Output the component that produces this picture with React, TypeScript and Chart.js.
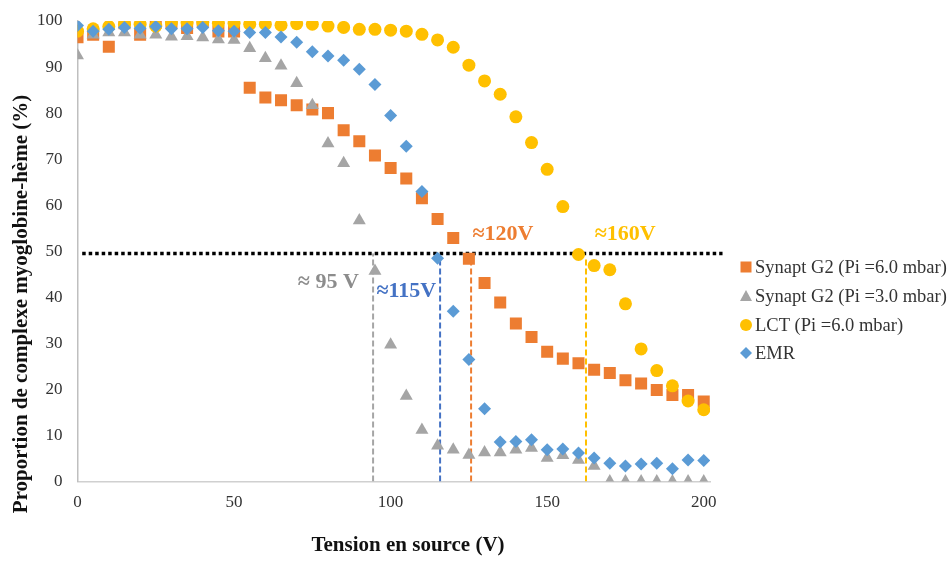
import { useEffect, useRef } from "react";
import { Chart, registerables } from "chart.js";

Chart.register(...registerables);

// ---- data ----
const volts = [0, 5, 10, 15, 20, 25, 30, 35, 40, 45, 50, 55, 60, 65, 70, 75, 80, 85, 90, 95, 100, 105, 110, 115, 120, 125, 130, 135, 140, 145, 150, 155, 160, 165, 170, 175, 180, 185, 190, 195, 200];

const seriesNames = ["Synapt G2 (Pi =6.0 mbar)", "Synapt G2 (Pi =3.0 mbar)", "LCT (Pi =6.0 mbar)", "EMR"];

const synapt6 = [96.5, 97, 94.4, 99.5, 97, 99.6, 99.6, 98.5, 100, 97.7, 97.7, 85.5, 83.4, 82.8, 81.7, 80.8, 80, 76.3, 73.9, 70.8, 68.1, 65.8, 61.5, 57, 52.9, 48.4, 43.1, 38.9, 34.3, 31.4, 28.2, 26.7, 25.7, 24.3, 23.6, 22, 21.3, 19.9, 18.8, 18.8, 17.4];
const synapt3 = [92.5, 97, 97.5, 97.5, 97, 97, 96.6, 96.7, 96.4, 96, 95.9, 94.1, 91.9, 90.3, 86.5, 81.7, 73.4, 69.1, 56.7, 45.7, 29.7, 18.6, 11.2, 7.8, 6.9, 5.8, 6.3, 6.3, 6.9, 7.3, 5.1, 5.7, 4.7, 3.4, 0, 0, 0, 0, 0, 0, 0];
const lct = [97.8, 98.3, 98.8, 99.3, 99.3, 98.9, 99.6, 99.6, 99.7, 99.5, 99.5, 99.3, 99.3, 99.1, 99.4, 99.3, 98.9, 98.6, 98.2, 98.2, 98, 97.8, 97.1, 95.9, 94.3, 90.4, 87, 84.1, 79.2, 73.6, 67.8, 59.7, 49.3, 46.9, 46, 38.6, 28.8, 24.1, 20.8, 17.5, 15.6];
const emr = [99, 97.8, 98.2, 98.6, 98.4, 98.8, 98.3, 98.3, 98.6, 97.9, 97.8, 97.5, 97.5, 96.5, 95.4, 93.3, 92.4, 91.5, 89.5, 86.2, 79.5, 72.8, 63, 48.5, 37, 26.5, 15.8, 8.6, 8.7, 9.1, 6.9, 7.1, 6.2, 5.1, 4, 3.4, 3.8, 4, 2.8, 4.7, 4.6];

// 50 % threshold line and read-off voltages
const thresholdLevel = 49.5;
const thresholdSpan = [1.5, 206];
const crossVolts = [94.4, 115.8, 125.7, 162.4];
const crossTops = [49.5, 48.5, 47.5, 48.5];
const crossLabels = ["≈ 95 V", "≈115V", "≈120V", "≈160V"];
const crossLabelX = [80.1, 105, 135.9, 174.9];
const crossLabelY = [43.2, 41.3, 53.6, 53.6];

const xTicks = [0, 50, 100, 150, 200];
const xTitle = "Tension en source (V)";
const yTitle = "Proportion de complexe myoglobine-hème (%)";

const COLORS = ["#ED7D31", "#A5A5A5", "#FFC000", "#5B9BD5"];
const LINE_COLORS = ["#A5A5A5", "#4472C4", "#ED7D31", "#FFC000"];
const LABEL_COLORS = ["#8C8C8C", "#4472C4", "#ED7D31", "#FFC000"];
const SERIF = '"Liberation Serif", "Times New Roman", serif';

export default function App() {
  const ref = useRef<HTMLCanvasElement>(null);

  useEffect(() => {
    document.body.style.margin = "0";
    const canvas = ref.current!;
    const pts = (arr: number[]) => volts.map((v, i) => ({ x: v, y: arr[i] }));
    const styles = ["rect", "triangle", "circle", "rectRot"];
    const radii = [8.5, 7.5, 6.5, 6.5];
    const seriesData = [synapt6, synapt3, lct, emr];

    const datasets: any[] = seriesData.map((arr, i) => ({
      label: seriesNames[i],
      data: pts(arr),
      pointStyle: styles[i],
      pointRadius: radii[i],
      pointHoverRadius: radii[i],
      backgroundColor: COLORS[i],
      borderColor: COLORS[i],
      pointBorderWidth: 0,
      showLine: false,
      order: 4 - i,
    }));

    crossVolts.forEach((v, i) => {
      datasets.push({
        label: "_v" + i,
        data: [
          { x: v, y: 0 },
          { x: v, y: crossTops[i] },
        ],
        showLine: true,
        pointRadius: 0,
        borderColor: LINE_COLORS[i],
        borderWidth: 2,
        borderDash: [6, 3],
        order: 10,
      });
    });
    datasets.push({
      label: "_h",
      data: [
        { x: thresholdSpan[0], y: thresholdLevel },
        { x: thresholdSpan[1], y: thresholdLevel },
      ],
      showLine: true,
      pointRadius: 0,
      borderColor: "#000000",
      borderWidth: 3.5,
      borderDash: [3.5, 3],
      borderCapStyle: "butt",
      clip: false,
      order: 9,
    });

    const overlay = {
      id: "overlay",
      afterDraw(chart: any) {
        const c = chart.ctx;
        const xs = chart.scales.x;
        const ys = chart.scales.y;
        c.save();
        // read-off labels
        c.font = `bold 22px ${SERIF}`;
        c.textAlign = "center";
        c.textBaseline = "middle";
        crossLabels.forEach((t, i) => {
          c.fillStyle = LABEL_COLORS[i];
          c.fillText(t, xs.getPixelForValue(crossLabelX[i]), ys.getPixelForValue(crossLabelY[i]));
        });
        // axis titles
        c.font = `bold 21px ${SERIF}`;
        c.fillStyle = "#111";
        c.fillText(xTitle, 408, 546);
        c.save();
        c.translate(22, 304);
        c.rotate(-Math.PI / 2);
        c.fillText(yTitle, 0, 0);
        c.restore();
        // legend
        const rowsY = [267, 296, 325, 353];
        c.font = `18.5px ${SERIF}`;
        c.textAlign = "left";
        seriesNames.forEach((name, i) => {
          const y = rowsY[i];
          c.fillStyle = COLORS[i];
          const mx = 746;
          c.beginPath();
          if (i === 0) {
            c.rect(mx - 5.5, y - 5.5, 11, 11);
          } else if (i === 1) {
            c.moveTo(mx - 6, y + 5);
            c.lineTo(mx + 6, y + 5);
            c.lineTo(mx, y - 6);
            c.closePath();
          } else if (i === 2) {
            c.arc(mx, y, 6, 0, Math.PI * 2);
          } else {
            c.moveTo(mx, y - 6);
            c.lineTo(mx + 6, y);
            c.lineTo(mx, y + 6);
            c.lineTo(mx - 6, y);
            c.closePath();
          }
          c.fill();
          c.fillStyle = "#333";
          c.fillText(name, 755, y + 1);
        });
        c.restore();
      },
    };

    const chart = new Chart(canvas, {
      type: "scatter",
      data: { datasets },
      plugins: [overlay],
      options: {
        animation: false,
        responsive: false,
        events: [],
        layout: { padding: { left: 22, right: 241, top: 21, bottom: 39 } },
        plugins: { legend: { display: false }, tooltip: { enabled: false } },
        scales: {
          x: {
            type: "linear",
            min: 0,
            max: 202,
            afterBuildTicks: (s: any) => {
              s.ticks = xTicks.map((v) => ({ value: v }));
            },
            grid: { display: false, drawTicks: false },
            border: { color: "#D0D0D0", width: 1.5 },
            ticks: { color: "#333", font: { family: SERIF, size: 17 }, padding: 11, maxRotation: 0 },
          },
          y: {
            min: 0,
            max: 100,
            afterFit: (s: any) => {
              s.paddingTop = 0;
            },
            ticks: { stepSize: 10, color: "#333", font: { family: SERIF, size: 17 }, padding: 15 },
            grid: { display: false, drawTicks: false },
            border: { color: "#BFBFBF", width: 1.5 },
          },
        },
      },
    });
    return () => chart.destroy();
  }, []);

  return (
    <div style={{ width: 951, height: 563, background: "#fff" }}>
      <canvas ref={ref} width={951} height={563} />
    </div>
  );
}
